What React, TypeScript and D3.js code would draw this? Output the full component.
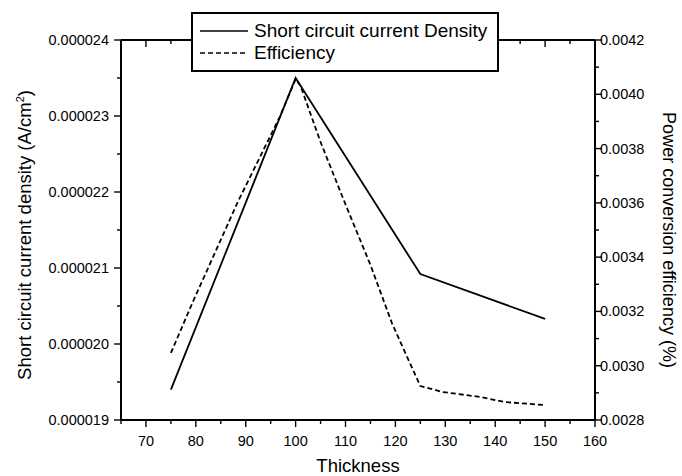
import React from 'react';
import * as d3 from 'd3';

// thickness (nm) where Jsc was measured
const jscThickness = [75, 100, 125, 150];
const jscValues = [0.0000194, 0.0000235, 0.00002092, 0.00002033];

// efficiency curve
const effThickness = [75, 79.3, 88.4, 96.8, 100, 101, 105, 110, 115, 119.3, 121, 125, 129.5, 137, 142, 150];
const effValues = [
  0.003047, 0.003231, 0.003603, 0.003916, 0.004056, 0.00403, 0.003824, 0.003594,
  0.003371, 0.003157, 0.003087, 0.002925, 0.002903, 0.002885, 0.002866, 0.002855,
];

const xTicks = [70, 80, 90, 100, 110, 120, 130, 140, 150, 160];
const xMinor = [65, 75, 85, 95, 105, 115, 125, 135, 145, 155];
const leftTicks = [0.000019, 0.00002, 0.000021, 0.000022, 0.000023, 0.000024];
const leftLabels = ['0.000019', '0.000020', '0.000021', '0.000022', '0.000023', '0.000024'];
const leftMinor = [0.0000195, 0.0000205, 0.0000215, 0.0000225, 0.0000235];
const rightTicks = [0.0028, 0.003, 0.0032, 0.0034, 0.0036, 0.0038, 0.004, 0.0042];
const rightLabels = ['0.0028', '0.0030', '0.0032', '0.0034', '0.0036', '0.0038', '0.0040', '0.0042'];
const rightMinor = [0.0029, 0.0031, 0.0033, 0.0035, 0.0037, 0.0039, 0.0041];

const W = 682;
const H = 476;
const m = { left: 121, right: 595, top: 40, bottom: 420 };
const font = 'Arial, "Liberation Sans", sans-serif';

export default function App() {
  const x = d3.scaleLinear().domain([65, 160]).range([m.left, m.right]);
  const yL = d3.scaleLinear().domain([0.000019, 0.000024]).range([m.bottom, m.top]);
  const yR = d3.scaleLinear().domain([0.0028, 0.0042]).range([m.bottom, m.top]);

  const jscLine = d3.line<number>()
    .x((d, i) => x(jscThickness[i]))
    .y((d) => yL(d));
  const effLine = d3.line<number>()
    .x((d, i) => x(effThickness[i]))
    .y((d) => yR(d));

  return (
    <svg width={W} height={H} style={{ position: 'absolute', left: 0, top: 0, background: '#fff' }} fontFamily={font}>
      <rect width={W} height={H} fill="#fff" />

      {/* frame */}
      <g stroke="#000" strokeWidth={2} fill="none">
        <line x1={m.left} x2={m.right} y1={m.bottom} y2={m.bottom} />
        <line x1={m.left} x2={m.right} y1={m.top} y2={m.top} />
        <line x1={m.left} x2={m.left} y1={m.top} y2={m.bottom} />
        <line x1={m.right} x2={m.right} y1={m.top} y2={m.bottom} />
      </g>

      {/* ticks: bottom/left/right outward, top inward */}
      <g stroke="#000" strokeWidth={1.4}>
        {xTicks.map((t) => (
          <g key={'xt' + t}>
            <line x1={x(t)} x2={x(t)} y1={m.bottom} y2={m.bottom + 7} />
            <line x1={x(t)} x2={x(t)} y1={m.top} y2={m.top + 7} />
          </g>
        ))}
        {xMinor.map((t) => (
          <g key={'xm' + t}>
            <line x1={x(t)} x2={x(t)} y1={m.bottom} y2={m.bottom + 4} />
            <line x1={x(t)} x2={x(t)} y1={m.top} y2={m.top + 4} />
          </g>
        ))}
        {leftTicks.map((t) => (
          <line key={'lt' + t} x1={m.left - 7} x2={m.left} y1={yL(t)} y2={yL(t)} />
        ))}
        {leftMinor.map((t) => (
          <line key={'lm' + t} x1={m.left - 4} x2={m.left} y1={yL(t)} y2={yL(t)} />
        ))}
        {rightTicks.map((t) => (
          <line key={'rt' + t} x1={m.right} x2={m.right + 7} y1={yR(t)} y2={yR(t)} />
        ))}
        {rightMinor.map((t) => (
          <line key={'rm' + t} x1={m.right} x2={m.right + 4} y1={yR(t)} y2={yR(t)} />
        ))}
      </g>

      {/* tick labels */}
      <g fontSize={14.5} fill="#000">
        {xTicks.map((t) => (
          <text key={'xl' + t} x={x(t)} y={m.bottom + 26} textAnchor="middle">{t}</text>
        ))}
        {leftTicks.map((t, i) => (
          <text key={'ll' + t} x={m.left - 12} y={yL(t) + 5} textAnchor="end">{leftLabels[i]}</text>
        ))}
        {rightTicks.map((t, i) => (
          <text key={'rl' + t} x={m.right + 5} y={yR(t) + 5} textAnchor="start">{rightLabels[i]}</text>
        ))}
      </g>

      {/* axis titles */}
      <text x={(m.left + m.right) / 2} y={472} fontSize={18.5} textAnchor="middle">Thickness</text>
      <text transform="translate(31,235) rotate(-90)" fontSize={18.5} textAnchor="middle">
        Short circuit current density (A/cm<tspan dy={-7} fontSize={11}>2</tspan><tspan dy={7}>)</tspan>
      </text>
      <text transform="translate(663,240) rotate(90)" fontSize={18} textAnchor="middle">
        Power conversion efficiency (%)
      </text>

      {/* data */}
      <path d={jscLine(jscValues) || ''} fill="none" stroke="#000" strokeWidth={1.8} />
      <path d={effLine(effValues) || ''} fill="none" stroke="#000" strokeWidth={1.8} strokeDasharray="5,3" />

      {/* legend */}
      <rect x={192} y={13} width={306} height={58} fill="#fff" stroke="#000" strokeWidth={2} />
      <line x1={200} x2={248} y1={31} y2={31} stroke="#000" strokeWidth={1.6} />
      <line x1={200} x2={248} y1={53} y2={53} stroke="#000" strokeWidth={1.6} strokeDasharray="5,3" />
      <text x={254} y={37} fontSize={19}>Short circuit current Density</text>
      <text x={254} y={59} fontSize={19}>Efficiency</text>
    </svg>
  );
}
